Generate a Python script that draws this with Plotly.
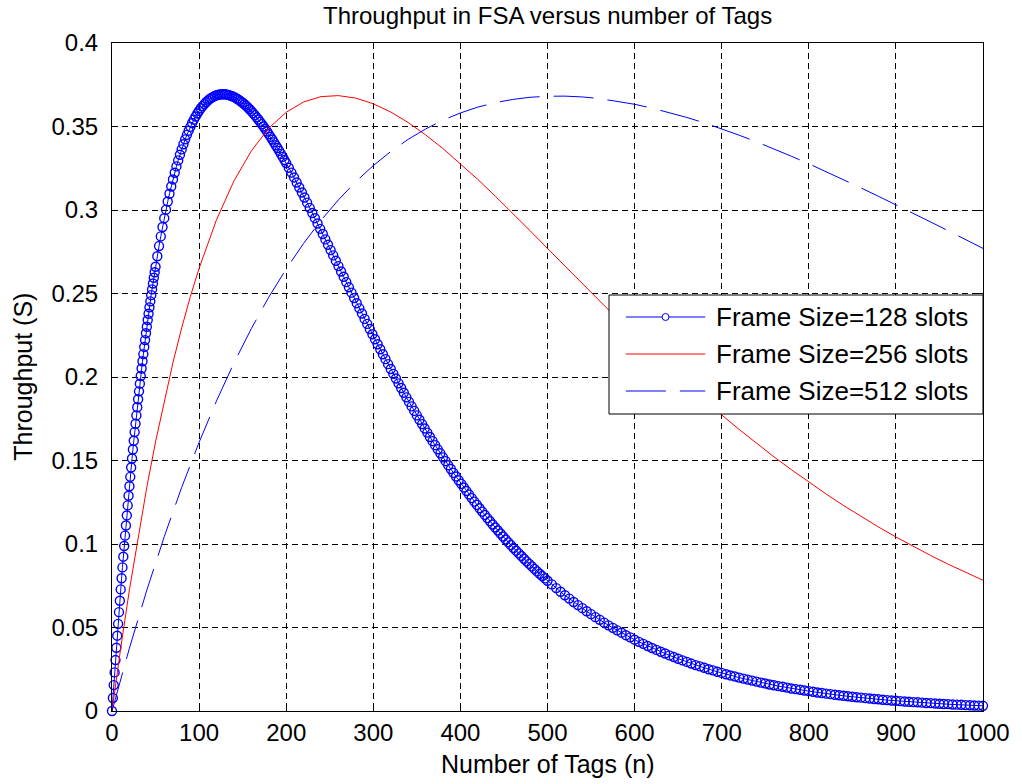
import plotly.graph_objects as go

# Number of tags at which each frame size was evaluated
tags_128 = (list(range(0, 51)) + list(range(52, 201, 2))
            + list(range(203, 501, 3)) + list(range(505, 1001, 5)))
throughput_128 = [
    0.0000, 0.0078, 0.0155, 0.0231, 0.0305, 0.0379, 0.0451, 0.0522, 0.0592, 0.0660,
    0.0728, 0.0795, 0.0860, 0.0924, 0.0988, 0.1050, 0.1111, 0.1171, 0.1231, 0.1289,
    0.1346, 0.1402, 0.1458, 0.1512, 0.1566, 0.1618, 0.1670, 0.1720, 0.1770, 0.1819,
    0.1867, 0.1914, 0.1960, 0.2006, 0.2051, 0.2094, 0.2137, 0.2180, 0.2221, 0.2262,
    0.2301, 0.2341, 0.2379, 0.2417, 0.2453, 0.2490, 0.2525, 0.2560, 0.2594, 0.2627,
    0.2660,
    # 52 .. 200, every 2 tags
    0.2723, 0.2784, 0.2842, 0.2898, 0.2951, 0.3002, 0.3051, 0.3097, 0.3141, 0.3183,
    0.3223, 0.3261, 0.3297, 0.3331, 0.3363, 0.3394, 0.3423, 0.3450, 0.3475, 0.3498,
    0.3521, 0.3541, 0.3560, 0.3578, 0.3594, 0.3609, 0.3622, 0.3634, 0.3645, 0.3655,
    0.3664, 0.3671, 0.3677, 0.3683, 0.3687, 0.3690, 0.3692, 0.3693, 0.3693, 0.3693,
    0.3691, 0.3689, 0.3685, 0.3681, 0.3677, 0.3671, 0.3665, 0.3658, 0.3650, 0.3642,
    0.3633, 0.3624, 0.3614, 0.3603, 0.3592, 0.3580, 0.3568, 0.3555, 0.3542, 0.3528,
    0.3514, 0.3500, 0.3485, 0.3470, 0.3454, 0.3438, 0.3422, 0.3405, 0.3388, 0.3371,
    0.3354, 0.3336, 0.3318, 0.3299, 0.3281,
    # 203 .. 500, every 3 tags
    0.3253, 0.3224, 0.3195, 0.3165, 0.3135, 0.3105, 0.3075, 0.3044, 0.3013, 0.2982,
    0.2951, 0.2919, 0.2887, 0.2856, 0.2824, 0.2792, 0.2760, 0.2728, 0.2696, 0.2664,
    0.2632, 0.2600, 0.2568, 0.2537, 0.2505, 0.2473, 0.2442, 0.2411, 0.2380, 0.2348,
    0.2318, 0.2287, 0.2256, 0.2226, 0.2196, 0.2166, 0.2136, 0.2107, 0.2077, 0.2048,
    0.2019, 0.1991, 0.1962, 0.1934, 0.1906, 0.1878, 0.1851, 0.1824, 0.1797, 0.1770,
    0.1744, 0.1718, 0.1692, 0.1667, 0.1641, 0.1616, 0.1592, 0.1567, 0.1543, 0.1519,
    0.1496, 0.1472, 0.1449, 0.1426, 0.1404, 0.1382, 0.1360, 0.1338, 0.1317, 0.1296,
    0.1275, 0.1254, 0.1234, 0.1214, 0.1194, 0.1174, 0.1155, 0.1136, 0.1117, 0.1099,
    0.1081, 0.1063, 0.1045, 0.1027, 0.1010, 0.0993, 0.0976, 0.0960, 0.0944, 0.0928,
    0.0912, 0.0896, 0.0881, 0.0866, 0.0851, 0.0836, 0.0822, 0.0808, 0.0794, 0.0780,
    # 505 .. 1000, every 5 tags
    0.0758, 0.0736, 0.0714, 0.0693, 0.0673, 0.0653, 0.0634, 0.0616, 0.0597, 0.0580,
    0.0562, 0.0546, 0.0529, 0.0513, 0.0498, 0.0483, 0.0469, 0.0454, 0.0441, 0.0427,
    0.0414, 0.0402, 0.0389, 0.0377, 0.0366, 0.0355, 0.0344, 0.0333, 0.0323, 0.0313,
    0.0303, 0.0294, 0.0284, 0.0275, 0.0267, 0.0259, 0.0250, 0.0243, 0.0235, 0.0228,
    0.0220, 0.0213, 0.0207, 0.0200, 0.0194, 0.0188, 0.0182, 0.0176, 0.0170, 0.0165,
    0.0159, 0.0154, 0.0149, 0.0145, 0.0140, 0.0135, 0.0131, 0.0127, 0.0123, 0.0119,
    0.0115, 0.0111, 0.0108, 0.0104, 0.0101, 0.0097, 0.0094, 0.0091, 0.0088, 0.0085,
    0.0082, 0.0080, 0.0077, 0.0075, 0.0072, 0.0070, 0.0067, 0.0065, 0.0063, 0.0061,
    0.0059, 0.0057, 0.0055, 0.0053, 0.0052, 0.0050, 0.0048, 0.0047, 0.0045, 0.0043,
    0.0042, 0.0041, 0.0039, 0.0038, 0.0037, 0.0035, 0.0034, 0.0033, 0.0032, 0.0031,
]

tags_256 = [0, 5, 10, 20, 30, 40, 50, 60, 70, 80, 90, 100] + list(range(120, 1001, 20))
throughput_256 = [
    0.0000, 0.0192, 0.0377, 0.0725, 0.1046, 0.1341, 0.1612, 0.1860, 0.2087, 0.2294,
    0.2482, 0.2651,
    0.2942, 0.3174, 0.3354, 0.3490, 0.3585, 0.3647, 0.3679, 0.3685, 0.3670, 0.3636,
    0.3587, 0.3524, 0.3450, 0.3368, 0.3278, 0.3183, 0.3083, 0.2981, 0.2876, 0.2770,
    0.2664, 0.2558, 0.2453, 0.2350, 0.2248, 0.2148, 0.2050, 0.1955, 0.1863, 0.1773,
    0.1686, 0.1603, 0.1522, 0.1445, 0.1370, 0.1299, 0.1230, 0.1164, 0.1102, 0.1042,
    0.0985, 0.0931, 0.0879, 0.0830, 0.0783,
]

tags_512 = [0, 10, 20] + list(range(40, 1001, 20))
throughput_512 = [
    0.0000, 0.0192, 0.0376,
    0.0724, 0.1044, 0.1339, 0.1609, 0.1857, 0.2084, 0.2290, 0.2478, 0.2647, 0.2800,
    0.2938, 0.3061, 0.3170, 0.3266, 0.3350, 0.3423, 0.3485, 0.3538, 0.3581, 0.3616,
    0.3643, 0.3662, 0.3675, 0.3681, 0.3682, 0.3677, 0.3667, 0.3652, 0.3633, 0.3610,
    0.3584, 0.3554, 0.3522, 0.3486, 0.3448, 0.3408, 0.3366, 0.3322, 0.3277, 0.3230,
    0.3182, 0.3132, 0.3082, 0.3032, 0.2980, 0.2928, 0.2876, 0.2823, 0.2770,
]

series_names = ["Frame Size=128 slots", "Frame Size=256 slots", "Frame Size=512 slots"]
x_ticks = [0, 100, 200, 300, 400, 500, 600, 700, 800, 900, 1000]
y_ticks = [0, 0.05, 0.1, 0.15, 0.2, 0.25, 0.3, 0.35, 0.4]
y_tick_text = ["0", "0.05", "0.1", "0.15", "0.2", "0.25", "0.3", "0.35", "0.4"]

FONT = "Liberation Sans, Arial, Helvetica, sans-serif"
BLUE = "#0000ff"
RED = "#ff0000"
DASH_512 = "40px,14px"

W, H = 1022, 784
L, R, T, B = 112, 32, 43, 73
PW, PH = W - L - R, H - T - B


def px(x):
    return (x - L) / PW


def py(y):
    return (H - B - y) / PH


fig = go.Figure()
fig.add_trace(go.Scatter(
    x=tags_128, y=throughput_128, name=series_names[0], mode="lines+markers",
    line=dict(color=BLUE, width=1),
    marker=dict(symbol="circle-open", size=9, color=BLUE, line=dict(width=1.4, color=BLUE)),
    cliponaxis=False,
))
fig.add_trace(go.Scatter(
    x=tags_256, y=throughput_256, name=series_names[1], mode="lines",
    line=dict(color=RED, width=1),
))
fig.add_trace(go.Scatter(
    x=tags_512, y=throughput_512, name=series_names[2], mode="lines",
    line=dict(color=BLUE, width=1, dash=DASH_512),
))

axis_common = dict(
    showline=True, linecolor="black", linewidth=1, mirror="ticks",
    ticks="inside", ticklen=6, tickcolor="black", tickwidth=1,
    showgrid=True, gridcolor="black", gridwidth=1, griddash="6px,4px",
    zeroline=False, tickfont=dict(family=FONT, size=24, color="black"),
)
fig.update_xaxes(range=[0, 1000], tickvals=x_ticks, ticklabelstandoff=0, **axis_common)
fig.update_yaxes(range=[0, 0.4], tickvals=y_ticks, ticktext=y_tick_text,
                 ticklabelstandoff=8, **axis_common)

annotations = [
    dict(text="Throughput in FSA versus number of Tags", xref="paper", yref="paper",
         x=0.5, y=py(1), xanchor="center", yanchor="top", showarrow=False,
         borderpad=0, font=dict(family=FONT, size=24, color="black")),
    dict(text="Number of Tags (n)", xref="paper", yref="paper",
         x=0.5, y=py(764), xanchor="center", yanchor="middle", showarrow=False,
         font=dict(family=FONT, size=25, color="black")),
    dict(text="Throughput (S)", xref="paper", yref="paper", textangle=-90,
         x=px(22), y=0.5, xanchor="center", yanchor="middle", showarrow=False,
         font=dict(family=FONT, size=25, color="black")),
]

# Legend box drawn by hand so the sample lines are long like the original style
shapes = [dict(type="rect", xref="paper", yref="paper",
               x0=px(613), x1=px(990), y0=py(414), y1=py(295),
               fillcolor="white", line=dict(color="black", width=1), layer="above")]
rows = [317, 354, 391]
styles = [dict(color=BLUE, width=1), dict(color=RED, width=1),
          dict(color=BLUE, width=1, dash=DASH_512)]
for row, name, style in zip(rows, series_names, styles):
    shapes.append(dict(type="line", xref="paper", yref="paper",
                       x0=px(630), x1=px(710), y0=py(row), y1=py(row),
                       line=style, layer="above"))
    annotations.append(dict(text=name, xref="paper", yref="paper",
                            x=px(719), y=py(row), xanchor="left", yanchor="middle",
                            showarrow=False,
                            font=dict(family=FONT, size=26, color="black")))
shapes.append(dict(type="circle", xref="paper", yref="paper",
                   x0=px(666.5), x1=px(673.5), y0=py(rows[0] + 3.5), y1=py(rows[0] - 3.5),
                   fillcolor="white", line=dict(color=BLUE, width=1), layer="above"))

fig.update_layout(
    width=W, height=H, margin=dict(l=L, r=R, t=T, b=B),
    paper_bgcolor="white", plot_bgcolor="white",
    showlegend=False, annotations=annotations, shapes=shapes,
    font=dict(family=FONT, size=24, color="black"),
)

fig.write_html("out.html")
